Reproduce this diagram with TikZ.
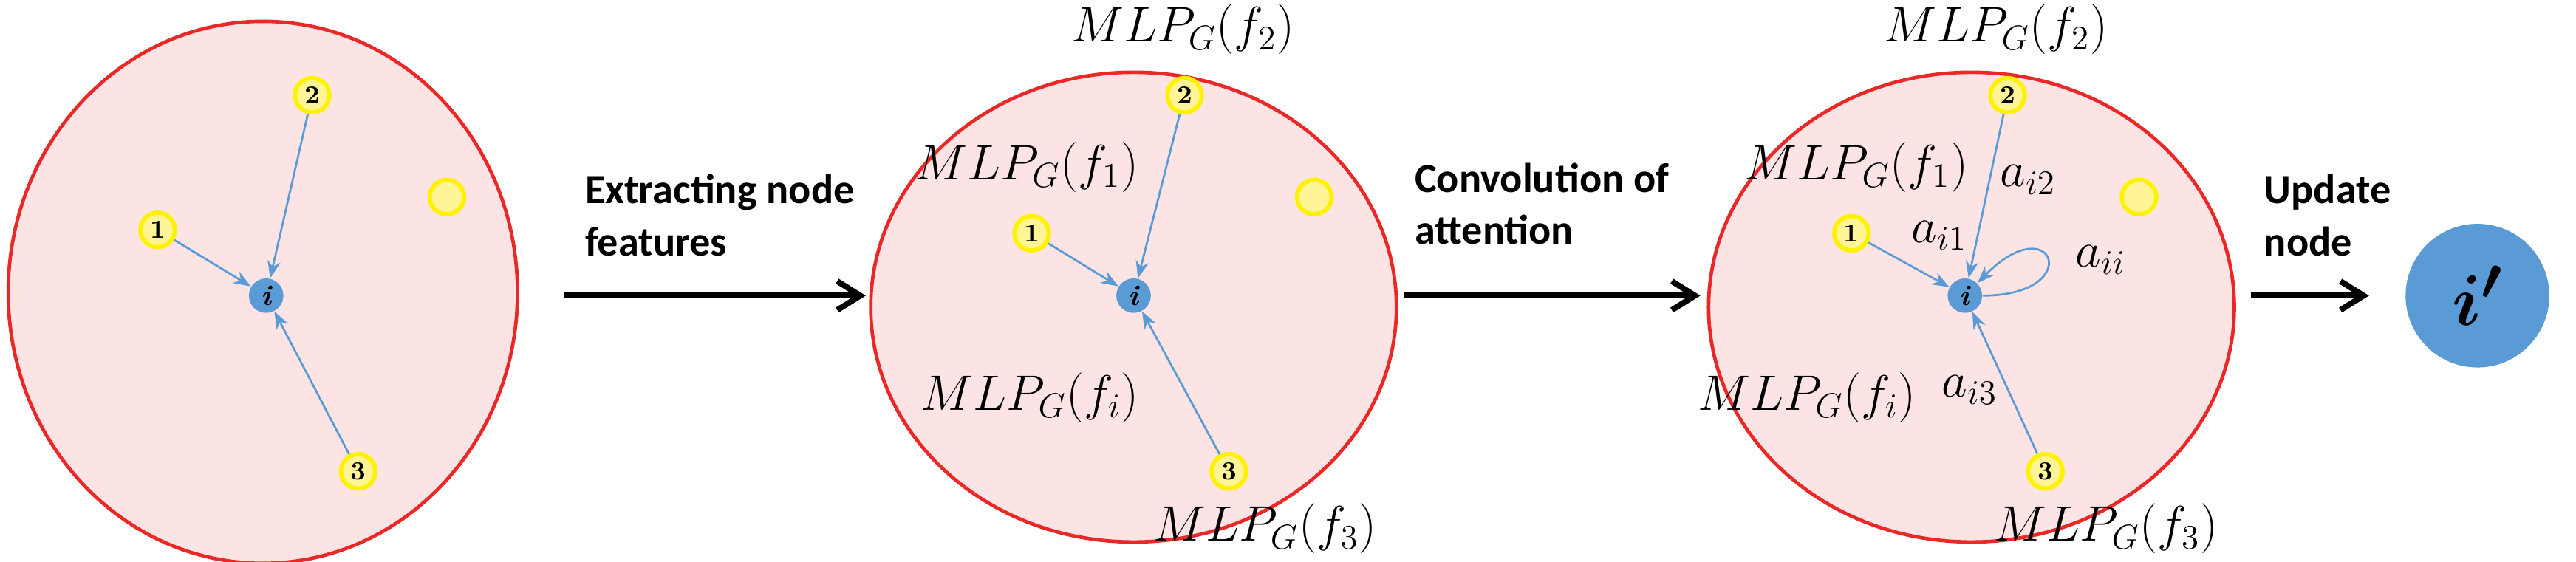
\documentclass[tikz,border=0pt]{standalone}
\usepackage{amsmath,amssymb}
\usepackage{fontspec}
\setsansfont{Carlito}
\usetikzlibrary{positioning, arrows.meta}
\definecolor{ringred}{RGB}{235,40,40}
\definecolor{ringfill}{RGB}{252,228,228}
\definecolor{nodeyel}{RGB}{255,245,150}
\definecolor{nodeblue}{RGB}{91,155,213}
\tikzset{
  ring/.style={draw=ringred, fill=ringfill, line width=1.2pt},
  nbr/.style={circle, draw=yellow, fill=nodeyel, line width=1.5pt, minimum size=0.42cm, inner sep=0pt, font=\bfseries\small},
  ctr/.style={circle, fill=nodeblue, minimum size=0.42cm, inner sep=0pt, font=\bfseries\itshape},
  link/.style={-{Stealth[length=6pt]}, draw=nodeblue, line width=0.7pt},
  stage/.style={-{Straight Barb[length=8pt, width=10pt]}, line width=2pt},
  stagelbl/.style={font=\sffamily\bfseries\Large, align=left},
  mlp/.style={font=\LARGE},
}
\begin{document}
\begin{tikzpicture}[x=0.02cm, y=-0.02cm]
\useasboundingbox (0,0) rectangle (1568,342);
% first graph
\draw[ring] (160,178) ellipse (155 and 165);
\node[ctr] (i1) at (162,180) {i};
\node[nbr] (a1) at (96,140) {1};
\node[nbr] (b1) at (190,58) {2};
\node[nbr] (c1) at (218,287) {3};
\node[nbr] (d1) at (272,120) {};
\draw[link] (a1) -- (i1);
\draw[link] (b1) -- (i1);
\draw[link] (c1) -- (i1);
% second graph
\draw[ring] (690,187) ellipse (160 and 143);
\node[ctr] (i2) at (690,180) {i};
\node[nbr] (a2) at (628,142) {1};
\node[nbr] (b2) at (721,58) {2};
\node[nbr] (c2) at (748,287) {3};
\node[nbr] (d2) at (800,120) {};
\draw[link] (a2) -- (i2);
\draw[link] (b2) -- (i2);
\draw[link] (c2) -- (i2);
\node[mlp] (m22) at (720,18) {$MLP_G(f_2)$};
\node[mlp] (m21) at (625,102) {$MLP_G(f_1)$};
\node[mlp] (m2i) at (627,242) {$MLP_G(f_i)$};
\node[mlp] (m23) at (770,322) {$MLP_G(f_3)$};
% third graph
\draw[ring] (1200,187) ellipse (160 and 143);
\node[ctr] (i3) at (1196,180) {i};
\node[nbr] (a3) at (1127,142) {1};
\node[nbr] (b3) at (1222,58) {2};
\node[nbr] (c3) at (1245,287) {3};
\node[nbr] (d3) at (1302,120) {};
\draw[link] (a3) -- node[pos=0.4, above right, mlp] {$a_{i1}$} (i3);
\draw[link] (b3) -- node[pos=0.4, right, mlp] {$a_{i2}$} (i3);
\draw[link] (c3) -- node[pos=0.45, left, mlp] {$a_{i3}$} (i3);
\draw[link] (i3.east) .. controls (1270,180) and (1250,125) .. node[pos=0.5, right=6pt, mlp] {$a_{ii}$} (i3.north east);
\node[mlp] (m32) at (1215,18) {$MLP_G(f_2)$};
\node[mlp] (m31) at (1130,102) {$MLP_G(f_1)$};
\node[mlp] (m3i) at (1100,242) {$MLP_G(f_i)$};
\node[mlp] (m33) at (1282,322) {$MLP_G(f_3)$};
% result
\node[circle, fill=nodeblue, minimum size=1.75cm, font=\Huge] (out) at (1508,180) {$\boldsymbol{i'}$};
% stages
\coordinate (s1a) at (343,180); \coordinate (s1b) at (527,180);
\coordinate (s2a) at (855,180); \coordinate (s2b) at (1035,180);
\coordinate (s3a) at (1370,180); \coordinate (s3b) at (1442,180);
\draw[stage] (s1a) -- (s1b);
\draw[stage] (s2a) -- (s2b);
\draw[stage] (s3a) -- (s3b);
\node[stagelbl, anchor=south west] (t1) at (350,162) {Extracting node\\features};
\node[stagelbl, anchor=south west] (t2) at (855,155) {Convolution of\\attention};
\node[stagelbl, anchor=south west] (t3) at (1372,162) {Update\\node};
\end{tikzpicture}
\end{document}
